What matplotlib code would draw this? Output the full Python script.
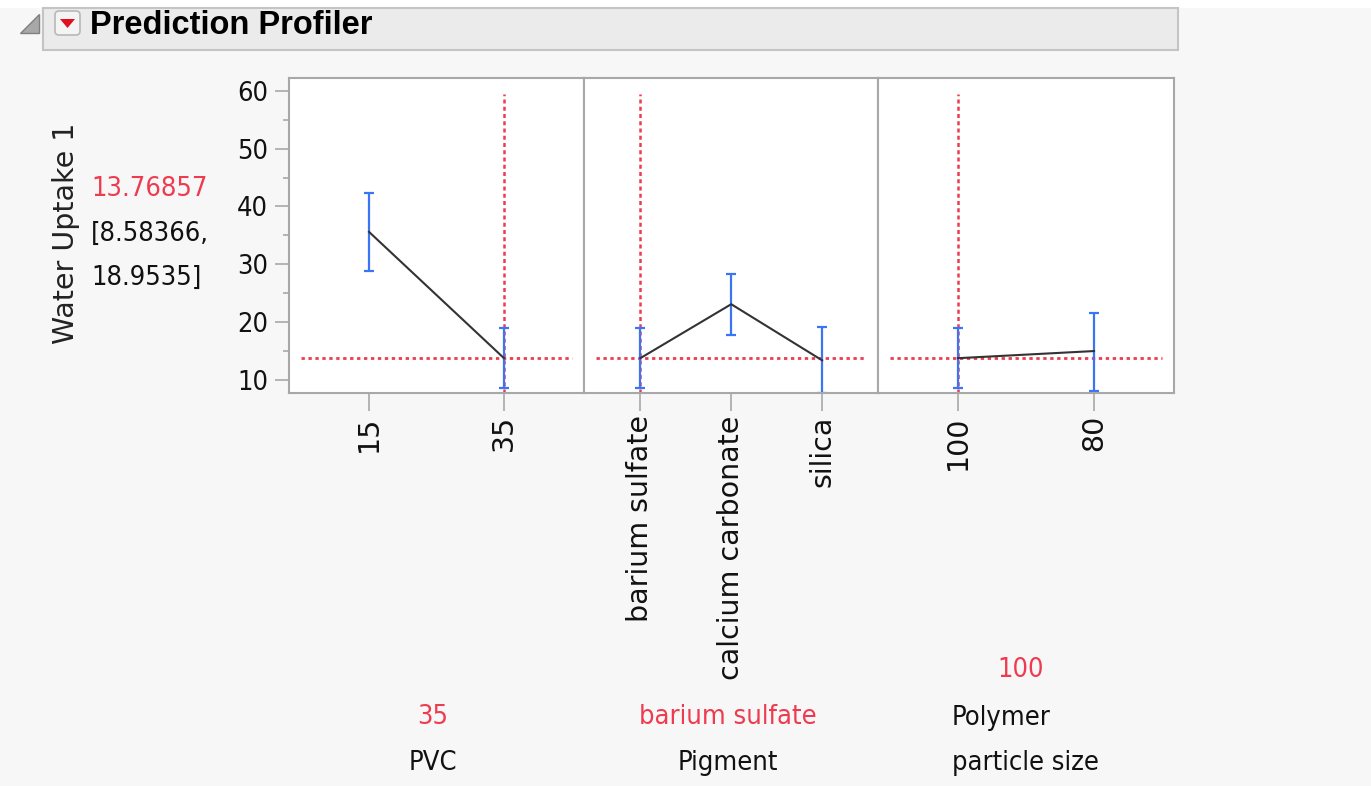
import numpy as np
import matplotlib
matplotlib.use('Agg')
import matplotlib.pyplot as plt
from matplotlib import font_manager as fm
from matplotlib.patches import Polygon, Rectangle, FancyBboxPatch

pvc_levels = ['15', '35']
pvc_mean = [35.6, 13.77]
pvc_lo = [28.8, 8.58]
pvc_hi = [42.3, 18.95]

pig_levels = ['barium sulfate', 'calcium carbonate', 'silica']
pig_mean = [13.77, 23.1, 13.4]
pig_lo = [8.58, 17.7, 7.8]
pig_hi = [18.95, 28.3, 19.1]

size_levels = ['100', '80']
size_mean = [13.77, 15.0]
size_lo = [8.58, 8.1]
size_hi = [18.95, 21.5]

current = [1, 0, 0]          # index of the current setting in each panel
pred = 13.76857
pred_ci = ['[8.58366,', '18.9535]']
yticks = [10, 20, 30, 40, 50, 60]

RED = '#EE3B4F'
BLUE = '#3A75F5'
FRAME = '#A8A8A8'
BG = '#F7F7F7'
INK = '#111111'

# pick a narrow font for the JMP-style labels if one is around
fonts = fm.fontManager.ttflist
names = {f.name for f in fonts}
if 'Liberation Sans Narrow' in names:
    NF = dict(family='Liberation Sans Narrow', fontsize=22)
elif any(f.name == 'DejaVu Sans' and 'condensed' in str(f.stretch) for f in fonts):
    NF = dict(family='DejaVu Sans', fontstretch='condensed', fontsize=19.5)
else:
    NF = dict(family='Liberation Sans', fontsize=19)

W, H = 1371, 786
fig = plt.figure(figsize=(W / 100, H / 100), dpi=100, facecolor=BG)

# overlay in pixel coordinates for header and free text
ov = fig.add_axes([0, 0, 1, 1], zorder=0)
ov.set_xlim(0, W)
ov.set_ylim(H, 0)
ov.axis('off')
ov.add_patch(Rectangle((0, 0), W, 8, color='white', lw=0))
ov.add_patch(Rectangle((43, 8), 1178 - 43, 42, facecolor='#EBEBEB', edgecolor='#C4C4C4', lw=1.5))
ov.add_patch(Polygon([(20, 33), (39, 33), (39, 14)], closed=True, facecolor='#A8A8A8', edgecolor='#808080', lw=1))
ov.add_patch(FancyBboxPatch((55, 11), 25, 24, boxstyle='round,pad=0,rounding_size=4',
                            facecolor='#F4F4F4', edgecolor='#B8B8B8', lw=1.2))
ov.add_patch(Polygon([(60, 19), (75, 19), (67.5, 28)], closed=True, color='#E0101E', lw=0))
ov.text(90, 25, 'Prediction Profiler', fontsize=23.5, fontweight='bold', family='Liberation Sans',
        ha='left', va='center', color='black')

# y label and predicted value
ov.text(66, 233, 'Water Uptake 1', rotation=90, fontsize=20.5, family='DejaVu Sans',
        ha='center', va='center', color='#222222')
ov.text(91, 189, f'{pred:.5f}', ha='left', va='center', color=RED, **NF)
ov.text(91, 234, pred_ci[0], ha='left', va='center', color=INK, **NF)
ov.text(91, 278, pred_ci[1], ha='left', va='center', color=INK, **NF)

# factor names and current settings under each panel
ov.text(433, 717, pvc_levels[current[0]], ha='center', va='center', color=RED, **NF)
ov.text(433, 763, 'PVC', ha='center', va='center', color=INK, **NF)
ov.text(728, 717, pig_levels[current[1]], ha='center', va='center', color=RED, **NF)
ov.text(728, 763, 'Pigment', ha='center', va='center', color=INK, **NF)
ov.text(1021, 670, size_levels[current[2]], ha='center', va='center', color=RED, **NF)
ov.text(952, 718, 'Polymer', ha='left', va='center', color=INK, **NF)
ov.text(952, 763, 'particle size', ha='left', va='center', color=INK, **NF)

panels = [
    (289, 584, pvc_levels, pvc_mean, pvc_lo, pvc_hi, (-0.593, 1.593)),
    (584, 878, pig_levels, pig_mean, pig_lo, pig_hi, (-0.62, 2.615)),
    (878, 1174, size_levels, size_mean, size_lo, size_hi, (-0.588, 1.588)),
]
top, bot = 78, 393

for i, (x0, x1, levels, mean, lo, hi, xl) in enumerate(panels):
    ax = fig.add_axes([x0 / W, 1 - bot / H, (x1 - x0) / W, (bot - top) / H], zorder=2)
    ax.set_facecolor('white')
    x = np.arange(len(levels))
    mean = np.array(mean)
    ax.axhline(pred, xmin=0.04, xmax=0.96, color=RED, lw=2.0, ls=(0, (1.2, 1.3)), zorder=1)
    ax.axvline(x[current[i]], ymin=0.0, ymax=0.95, color=RED, lw=1.8, ls=(0, (1.6, 1.3)), zorder=1)
    ax.errorbar(x, mean, yerr=[mean - np.array(lo), np.array(hi) - mean], fmt='none',
                ecolor=BLUE, elinewidth=1.6, capsize=3.5, capthick=1.6, zorder=2)
    ax.plot(x, mean, color='#333333', lw=1.5, zorder=3)
    ax.set_xlim(*xl)
    ax.set_ylim(7.75, 62.2)
    ax.set_xticks(x)
    ax.set_xticklabels(levels, rotation=90, fontsize=20.5, family='DejaVu Sans', color=INK)
    ax.tick_params(axis='x', length=13, width=1.2, color=FRAME, pad=3)
    for s in ax.spines.values():
        s.set_color(FRAME)
        s.set_linewidth(1.5)
    if i == 0:
        ax.set_yticks(yticks)
        ax.set_yticks([15, 25, 35, 45, 55], minor=True)
        ax.set_yticklabels([str(v) for v in yticks], color=INK, **NF)
        ax.tick_params(axis='y', which='major', length=10, width=1.2, color=FRAME, pad=5)
        ax.tick_params(axis='y', which='minor', length=4.5, width=1.2, color=FRAME)
    else:
        ax.set_yticks([])

fig.savefig('out.png', dpi=100, facecolor=BG)
